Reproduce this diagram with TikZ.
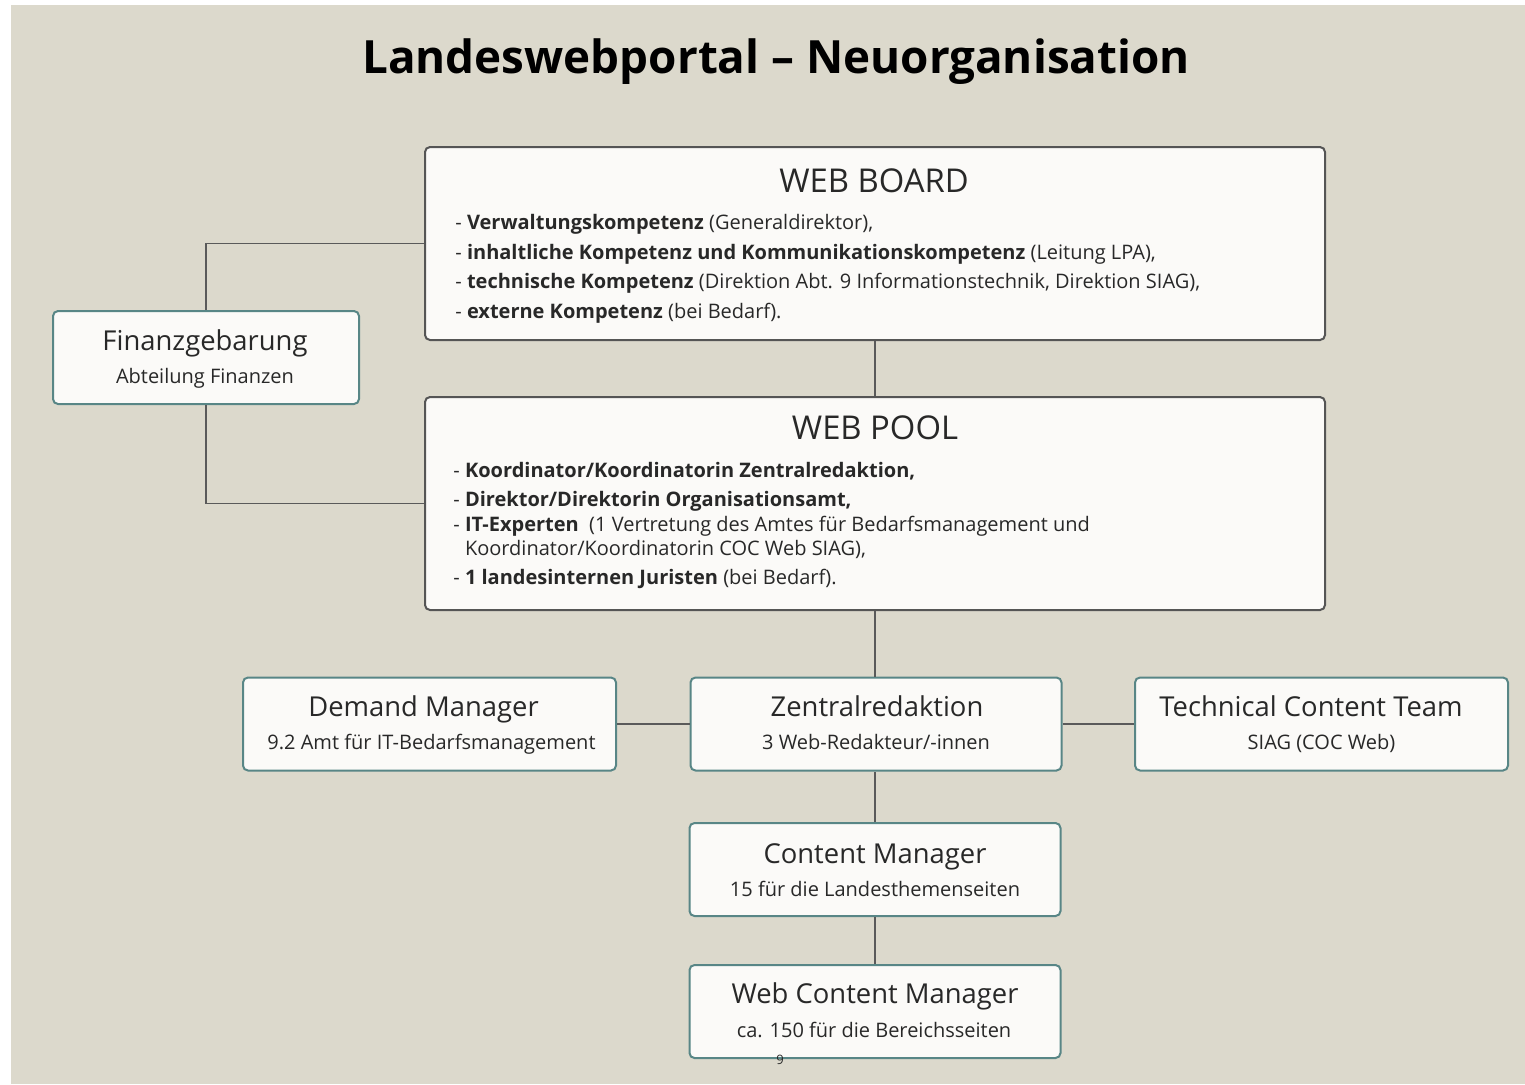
\documentclass[tikz,border=0pt]{standalone}
\usepackage{fontspec}
\setmainfont{Open Sans}

\definecolor{paper}{RGB}{220,217,204}
\definecolor{boxfill}{RGB}{251,250,248}
\definecolor{darkframe}{RGB}{85,85,85}
\definecolor{tealframe}{RGB}{88,134,134}
\definecolor{linegray}{RGB}{90,90,90}
\definecolor{ink}{RGB}{40,40,40}

\tikzstyle{bigbox}=[draw=darkframe, line width=1pt, fill=boxfill, rounded corners=2.5pt, inner sep=0pt, minimum width=450pt]
\tikzstyle{unit}=[draw=tealframe, line width=1pt, fill=boxfill, rounded corners=2.5pt, inner sep=0pt, minimum width=185.5pt, minimum height=46.5pt]
\tikzstyle{head}=[text=ink, inner sep=0pt, anchor=base, font=\fontsize{13.7}{16}\selectfont]
\tikzstyle{sub}=[text=ink, inner sep=0pt, anchor=base, font=\fontsize{10}{12}\selectfont]
\tikzstyle{bighead}=[text=ink, inner sep=0pt, font=\fontsize{16.4}{19}\selectfont]
\tikzstyle{list}=[text=ink, inner sep=0pt, anchor=north west, align=left, font=\fontsize{10}{12}\selectfont]
\tikzstyle{link}=[draw=linegray, line width=0.7pt]

\begin{document}
\begin{tikzpicture}[x=0.5pt, y=-0.5pt]
\useasboundingbox (0,0) rectangle (1525,1084);
\fill[white] (0,0) rectangle (1525,1084);
\fill[paper] (11,5) rectangle (1525,1084);

\node[font=\bfseries\fontsize{22.9}{27}\selectfont] (title) at (776,62) {Landeswebportal -- Neuorganisation};

% board and pool
\node[bigbox, minimum height=96.5pt] (board) at (875,243.5) {};
\node[bighead] (boardhead) at (874,181) {WEB BOARD};
\node[list] (boardlist) at (455,214) {%
- \textbf{Verwaltungskompetenz} (Generaldirektor),\\[2.75pt]
- \textbf{inhaltliche Kompetenz und Kommunikationskompetenz} (Leitung LPA),\\[2.75pt]
- \textbf{technische Kompetenz} (Direktion Abt. 9 Informationstechnik, Direktion SIAG),\\[2.75pt]
- \textbf{externe Kompetenz} (bei Bedarf).};

\node[bigbox, minimum height=106.5pt] (pool) at (875,503.5) {};
\node[bighead] (poolhead) at (875,428) {WEB POOL};
\node[list] (poollist) at (453,462) {%
- \textbf{Koordinator/Koordinatorin Zentralredaktion,}\\[2.5pt]
- \textbf{Direktor/Direktorin Organisationsamt,}\\[0.5pt]
- \textbf{IT-Experten}\ \ (1 Vertretung des Amtes f\"ur Bedarfsmanagement und\\
\phantom{- }Koordinator/Koordinatorin COC Web SIAG),\\[2.5pt]
- \textbf{1 landesinternen Juristen} (bei Bedarf).};

% side box
\node[unit, minimum width=153pt] (finanz) at (206,357.5) {};
\node[head] (finanzhead) at (205,350.5) {Finanzgebarung};
\node[sub] (finanzsub) at (205,383) {Abteilung Finanzen};

% units
\node[unit, minimum width=186.5pt] (demand) at (429.5,724) {};
\node[head] (demandhead) at (423.5,716.5) {Demand Manager};
\node[sub] (demandsub) at (431.5,749) {9.2 Amt f\"ur IT-Bedarfsmanagement};

\node[unit] (zentral) at (876,724) {};
\node[head] (zentralhead) at (877,716.5) {Zentralredaktion};
\node[sub] (zentralsub) at (876,749) {3 Web-Redakteur/-innen};

\node[unit, minimum width=186.5pt] (tech) at (1321.5,724) {};
\node[head] (techhead) at (1311,716.5) {Technical Content Team};
\node[sub] (techsub) at (1321.5,749) {SIAG (COC Web)};

\node[unit] (content) at (875,869.5) {};
\node[head] (contenthead) at (875,863.5) {Content Manager};
\node[sub] (contentsub) at (875,896) {15 f\"ur die Landesthemenseiten};

\node[unit] (webcontent) at (875,1011.5) {};
\node[head] (webcontenthead) at (875,1003.5) {Web Content Manager};
\node[sub] (webcontentsub) at (874,1037) {ca. 150 f\"ur die Bereichsseiten};
\node[text=ink, font=\fontsize{6.5}{8}\selectfont, inner sep=0pt] (pagenum) at (780,1060) {9};

\draw[link] (board) -- (pool);
\draw[link] (board.west) -| (finanz.north);
\draw[link] (finanz.south) |- (pool.west);
\draw[link] (pool) -- (pool |- zentral.north);
\draw[link] (demand) -- (zentral);
\draw[link] (zentral) -- (tech);
\draw[link] (content) -- (content |- zentral.south);
\draw[link] (content) -- (webcontent);
\end{tikzpicture}
\end{document}
